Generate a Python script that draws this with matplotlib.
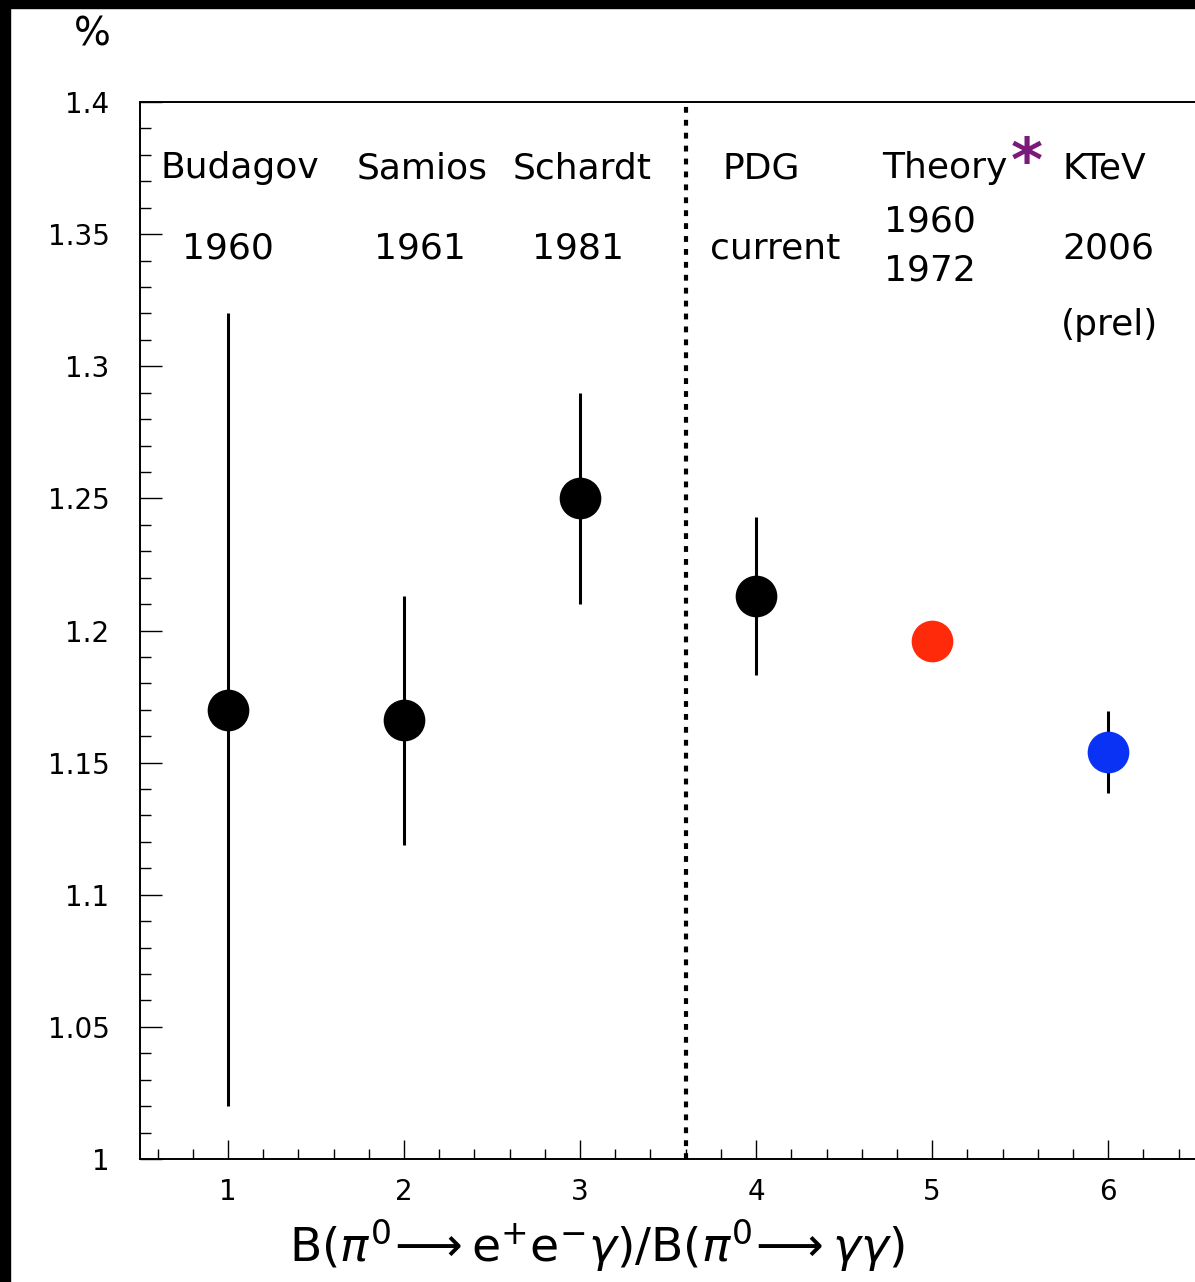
import matplotlib
matplotlib.use("Agg")
import matplotlib.pyplot as plt
from matplotlib.patches import Rectangle
from matplotlib.ticker import MultipleLocator, FuncFormatter

plt.rcParams['font.family'] = ['DejaVu Sans']

# ---- data ----
x_pos = [1, 2, 3, 4, 5, 6]
values = [1.170, 1.166, 1.250, 1.213, 1.196, 1.154]
errors = [0.150, 0.047, 0.040, 0.030, 0.0, 0.0155]
colors = ['black', 'black', 'black', 'black', '#ff2a0a', '#0a32f5']
names = ['Budagov', 'Samios', 'Schardt', 'PDG', 'Theory', 'KTeV']
years = ['1960', '1961', '1981', 'current', '1960\n1972', '2006']
extra = ['', '', '', '', '', '(prel)']
divider_x = 3.6
xlabel = r'$\mathrm{B}(\pi^{0}\!\longrightarrow \mathrm{e}^{+}\mathrm{e}^{-}\gamma)/\mathrm{B}(\pi^{0}\!\longrightarrow \gamma\gamma)$'

W, H = 1195, 1282
fig = plt.figure(figsize=(W / 100, H / 100), dpi=100)
fig.patch.set_facecolor('white')

left = 140 / W
bottom = (H - 1159) / H
top = (H - 102) / H
ax = fig.add_axes([left, bottom, 1.0 - left + 0.001, top - bottom])
ax.set_xlim(0.5, 6.5)
ax.set_ylim(1.0, 1.4)

for s in ['left', 'bottom', 'top']:
    ax.spines[s].set_linewidth(1.4)
ax.spines['right'].set_visible(False)

ax.xaxis.set_major_locator(MultipleLocator(1))
ax.xaxis.set_minor_locator(MultipleLocator(0.2))
ax.yaxis.set_major_locator(MultipleLocator(0.05))
ax.yaxis.set_minor_locator(MultipleLocator(0.01))
ax.yaxis.set_major_formatter(FuncFormatter(lambda v, p: ('%.2f' % v).rstrip('0').rstrip('.') if abs(v - 1) > 1e-9 else '1'))
ax.tick_params(axis='both', which='both', direction='in', top=False, right=False, width=1.0)
ax.tick_params(axis='x', which='major', length=14, pad=14, labelsize=20)
ax.tick_params(axis='x', which='minor', length=7)
ax.tick_params(axis='y', which='major', length=16, pad=22, labelsize=20)
ax.tick_params(axis='y', which='minor', length=8)

# divider
ax.axvline(divider_x, color='black', lw=3, ls=(0, (1.4, 1.7)))

# data points
for xi, yi, ei, c in zip(x_pos, values, errors, colors):
    if ei > 0:
        ax.errorbar([xi], [yi], yerr=[ei], fmt='none', ecolor='black', elinewidth=2.2, capsize=0, zorder=2)
    ax.plot([xi], [yi], 'o', ms=29, color=c, mec=c, zorder=3)

# labels
name_xy = [(1.07, 1.375), (2.10, 1.375), (3.01, 1.375), (4.03, 1.375), (5.07, 1.375), (5.98, 1.375)]
year_xy = [(1.0, 1.3447), (2.09, 1.3447), (2.99, 1.3447), (4.11, 1.3447), (4.99, 1.3455), (6.0, 1.3447)]
for (nx, ny), t in zip(name_xy, names):
    ax.text(nx, ny, t, ha='center', va='center', fontsize=26)
for (yx, yy), t in zip(year_xy, years):
    ax.text(yx, yy, t, ha='center', va='center', fontsize=26, linespacing=1.55)
ax.text(6.01, 1.3156, extra[5], ha='center', va='center', fontsize=26)

# star
ax.text(5.54, 1.3765, '*', ha='center', va='center', fontsize=44, fontweight='bold', color='#7a1a7a')

ax.set_xlabel(xlabel, fontsize=34)
ax.xaxis.set_label_coords(0.433, -0.055)
ax.xaxis.label.set_va('top')

fig.text(92 / W, 1 - 34 / H, '%', ha='center', va='center', fontsize=28)

# black frame strips
fig.patches.append(Rectangle((0, 1 - 8 / H), 1, 8 / H, transform=fig.transFigure, color='black', zorder=10))
fig.patches.append(Rectangle((0, 0), 10 / W, 1, transform=fig.transFigure, color='black', zorder=10))

fig.savefig('out.png', dpi=100)
